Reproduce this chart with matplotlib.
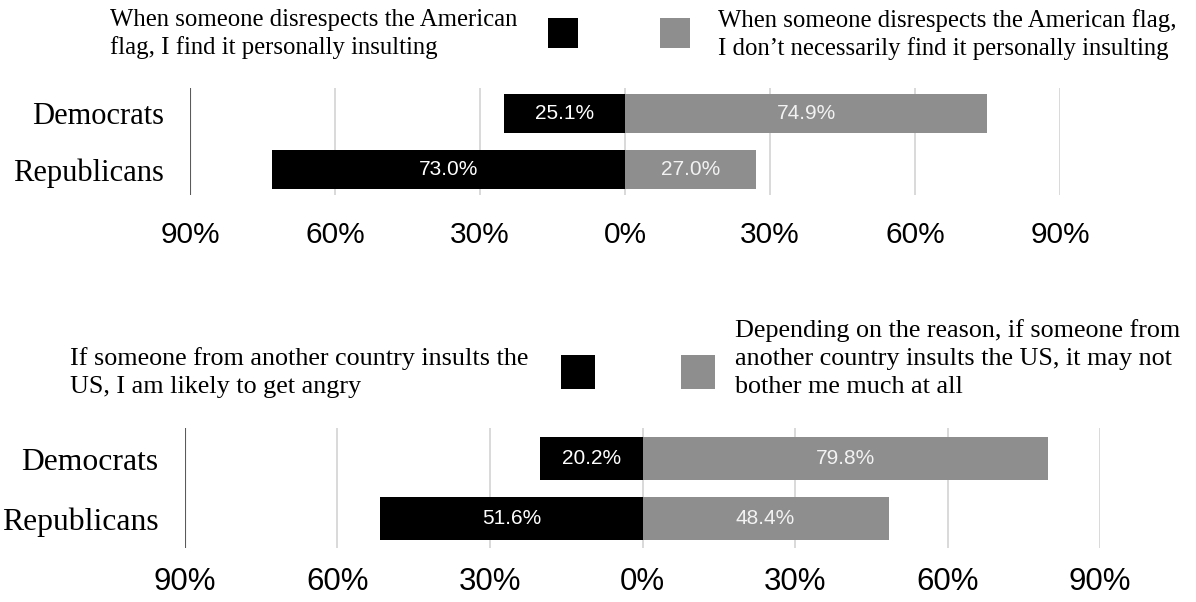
import matplotlib
matplotlib.use('Agg')
from matplotlib import pyplot as plt
from matplotlib.patches import Rectangle

W, H = 1196, 602

GROUPS = ['Democrats', 'Republicans']
TICKS = [-90, -60, -30, 0, 30, 60, 90]
TICK_LABELS = ['90%', '60%', '30%', '0%', '30%', '60%', '90%']

# flag question
FLAG_YES = [25.1, 73.0]
FLAG_NO = [74.9, 27.0]
FLAG_YES_TEXT = 'When someone disrespects the American\nflag, I find it personally insulting'
FLAG_NO_TEXT = 'When someone disrespects the American flag,\nI don\u2019t necessarily find it personally insulting'

# insult question
ANGRY = [20.2, 51.6]
NOT_ANGRY = [79.8, 48.4]
ANGRY_TEXT = 'If someone from another country insults the\nUS, I am likely to get angry'
NOT_ANGRY_TEXT = ('Depending on the reason, if someone from\n'
                  'another country insults the US, it may not\nbother me much at all')

BLACK = '#000000'
GREY = '#8e8e8e'
SERIF = 'Liberation Serif'
SANS = 'Liberation Sans'


def px_axes(fig, left, top, right, bottom):
    return fig.add_axes([left / W, 1 - bottom / H, (right - left) / W, (bottom - top) / H])


def px_box(fig, left, top, size, color):
    fig.patches.append(Rectangle((left / W, 1 - (top + size) / H), size / W, size / H,
                                 transform=fig.transFigure, facecolor=color,
                                 edgecolor='none'))


def px_text(fig, x, y, s, **kw):
    fig.text(x / W, 1 - y / H, s, family=SERIF, va='top', **kw)


def draw_panel(ax, left_vals, right_vals, height, ylim, pad, tick_size, cat_size):
    ax.set_xlim(-90, 90)
    ax.set_ylim(*ylim)
    for t in TICKS[1:]:
        ax.axvline(t, color='#cfcfcf', lw=1.1, zorder=0)
    ax.axvline(-90, color='#5a5a5a', lw=1.5, zorder=0)

    y = range(len(GROUPS))
    neg = [-v for v in left_vals]
    b1 = ax.barh(y, neg, height=height, color=BLACK, zorder=2)
    b2 = ax.barh(y, right_vals, height=height, color=GREY, zorder=2)
    ax.bar_label(b1, labels=['%.1f%%' % v for v in left_vals], label_type='center',
                 color='white', family=SANS, fontsize=15)
    ax.bar_label(b2, labels=['%.1f%%' % v for v in right_vals], label_type='center',
                 color='#f2f2f2', family=SANS, fontsize=15)

    ax.set_xticks(TICKS)
    ax.set_xticklabels(TICK_LABELS, family=SANS, fontsize=tick_size)
    ax.set_yticks(list(y))
    ax.set_yticklabels(GROUPS, family=SERIF, fontsize=cat_size)
    ax.tick_params(axis='x', length=0, pad=pad)
    ax.tick_params(axis='y', length=0, pad=19)
    for s in ax.spines.values():
        s.set_visible(False)


fig = plt.figure(figsize=(W / 100, H / 100), dpi=100)

top = px_axes(fig, 190, 88, 1060, 195)
draw_panel(top, FLAG_YES, FLAG_NO, 0.7, (1.45, -0.45), 19, 21.5, 22)

bottom = px_axes(fig, 185, 428, 1100, 548)
draw_panel(bottom, ANGRY, NOT_ANGRY, 0.72, (1.49, -0.51), 14, 22.5, 22.8)

# legend rows
px_text(fig, 110, 9, FLAG_YES_TEXT, fontsize=17.8, linespacing=1.28)
px_box(fig, 548, 18, 30, BLACK)
px_box(fig, 660, 18, 30, GREY)
px_text(fig, 718, 9, FLAG_NO_TEXT, fontsize=17.8, linespacing=1.28)

px_text(fig, 70, 347, ANGRY_TEXT, fontsize=18.8, linespacing=1.36)
px_box(fig, 561, 355, 34, BLACK)
px_box(fig, 681, 355, 34, GREY)
px_text(fig, 735, 319, NOT_ANGRY_TEXT, fontsize=18.8, linespacing=1.36)

fig.savefig('out.png', dpi=100)
